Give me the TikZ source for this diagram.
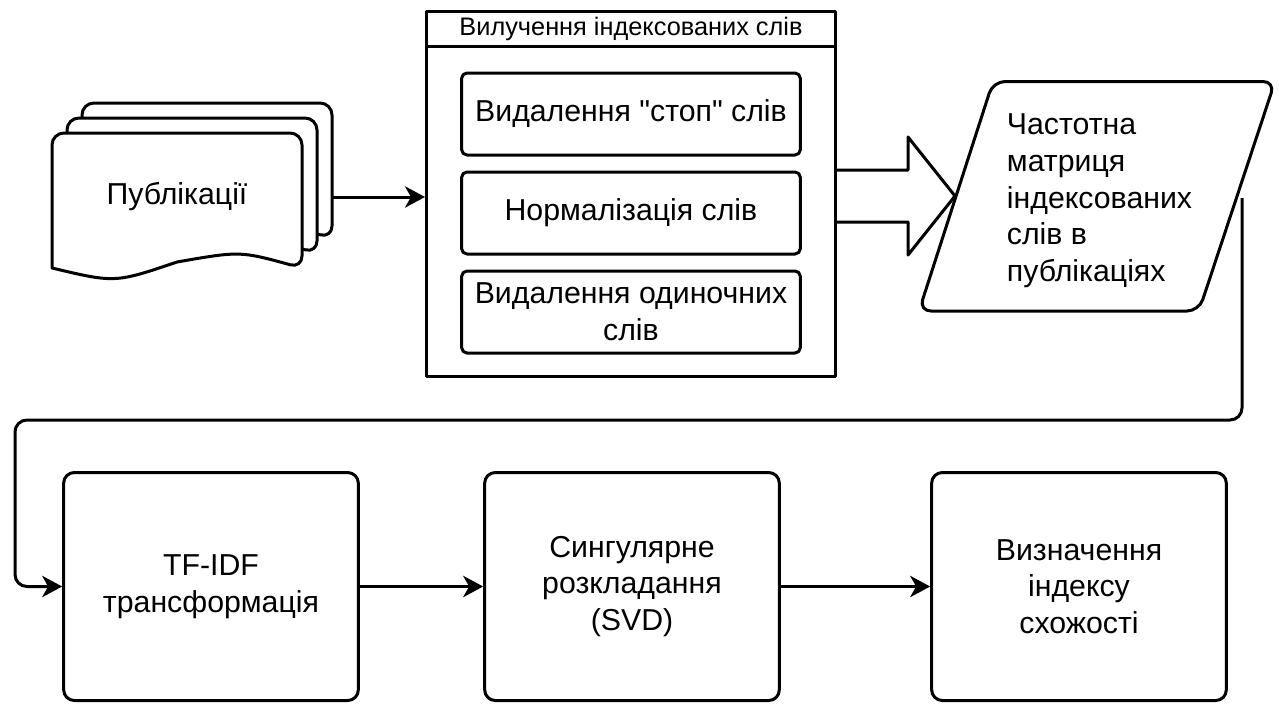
\documentclass[tikz,border=0pt]{standalone}
\usepackage{fontspec}
\setmainfont{Liberation Sans}
\usetikzlibrary{arrows.meta}
\newcommand\strq{{\XeTeXglyph\XeTeXglyphindex "quotedbl"\relax}}

\begin{document}
\begin{tikzpicture}[x=0.75pt, y=-0.75pt, line width=2.25pt, line join=round,
    txt/.style={font=\fontsize{22.7}{27.5}\selectfont, align=center},
    stage/.style={txt, draw, rounded corners=8pt, minimum width=221pt, minimum height=171pt},
    substep/.style={txt, draw, rounded corners=4pt, minimum width=254pt, minimum height=61.5pt, inner sep=0pt},
    flow/.style={-{Stealth[length=15pt, width=16pt, inset=4.5pt]}}]
    \useasboundingbox (0,0) rectangle (1279,704);

    % Publications (stack of documents)
    \foreach \d in {30,15,0} {
        \begin{scope}[shift={(\d,-\d)}]
            \draw[fill=white, rounded corners=9pt] (52,268) -- (52,133) -- (302,133) -- (302,268)
                [sharp corners] .. controls (240,251) .. (177,262) .. controls (115,283) .. (52,268) -- cycle;
        \end{scope}
    }
    \node[txt] (pub) at (177,197) {Публікації};
    \coordinate (docs) at (332,197);

    % Extraction of indexed words
    \node[draw, minimum width=306.75pt, minimum height=273.75pt] (extract) at (631,194) {};
    \draw ([yshift=-27pt]extract.north west) -- ([yshift=-27pt]extract.north east);
    \node[font=\fontsize{19}{22}\selectfont] (head) at (631,29) {Вилучення індексованих слів};
    \node[substep] (stop) at (631,114) {Видалення \strq стоп\strq{} слів};
    \node[substep] (norm) at (631,213) {Нормалізація слів};
    \node[substep] (single) at (631,312) {Видалення одиночних\\слів};

    \draw[flow] (docs) -- (docs -| extract.west);

    % Frequency matrix
    \draw[rounded corners=9pt] (919,311) -- (993,81.5) -- (1275,81.5) -- (1199,311) -- cycle;
    \node[txt, align=left, anchor=west] (matrix) at (1001,201)
        {Частотна\\матриця\\індексованих\\слів в\\публікаціях};
    \coordinate (matout) at (1242,198);

    % Big arrow
    \draw (extract.east |- 0,170) -- (908,170) -- (908,137) -- (955,196)
        -- (908,255) -- (908,222) -- (extract.east |- 0,222);

    % Processing stages
    \node[stage] (tfidf) at (211,586.5) {TF-IDF\\трансформація};
    \node[stage] (svd) at (632,586.5) {Сингулярне\\розкладання\\(SVD)};
    \node[stage] (sim) at (1079,586.5) {Визначення\\індексу\\схожості};

    \coordinate (turn) at (15,420);
    \draw[flow, rounded corners=9pt] (matout) |- (turn) |- (tfidf.west);
    \draw[flow] (tfidf) -- (svd);
    \draw[flow] (svd) -- (sim);
\end{tikzpicture}
\end{document}
